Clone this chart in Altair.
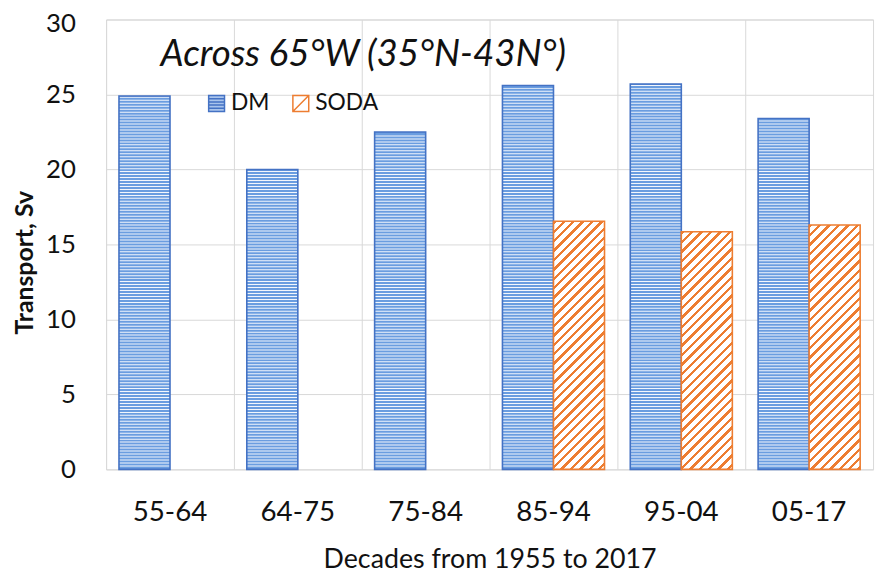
import altair as alt
import pandas as pd

# ---- data ----
decades = ["55-64", "64-75", "75-84", "85-94", "95-04", "05-17"]
dm_values = [24.9, 20.0, 22.5, 25.6, 25.7, 23.4]
soda_decades = ["85-94", "95-04", "05-17"]
soda_values = [16.55, 15.85, 16.3]
series_names = ["DM", "SODA"]
y_ticks = [0, 5, 10, 15, 20, 25, 30]

rows = [{"decade": d, "series": "DM", "value": v} for d, v in zip(decades, dm_values)]
rows += [{"decade": d, "series": "SODA", "value": v} for d, v in zip(soda_decades, soda_values)]
df = pd.DataFrame(rows)

# ---- layout / style ----
W, H = 774, 454
YMAX = 30
FONT = "Lato"
GRID = "#d9d9d9"
BLUE = "#4472c4"
DM_FILL = "#6a9de0"
ORANGE = "#ed7d31"
P_OUT = 0.2524
band = W / len(decades)
bar_w = band / (2 + 2 * P_OUT)
px = YMAX / H                 # data units per pixel
STEP = 3 * px                 # stripe period: 3 px
LW = 1 * px                   # white stripe: 1 px


def diag(w, h, period=9.5, line=3.4, col=ORANGE, bg="#ffffff"):
    L = w + h
    lam = L / (w * w + h * h)
    stops = []
    s = 0.0
    while s < L:
        a = s / L
        b = min((s + line) / L, 1.0)
        c = min((s + period) / L, 1.0)
        stops += [{"offset": a, "color": col}, {"offset": b, "color": col},
                  {"offset": b, "color": bg}, {"offset": c, "color": bg}]
        s += period
    return {"gradient": "linear", "x1": 0, "y1": 0, "x2": lam * w, "y2": lam * h, "stops": stops}


x_enc = alt.X(
    "decade:N", sort=decades,
    scale=alt.Scale(paddingInner=0, paddingOuter=0),
    axis=alt.Axis(
        title="Decades from 1955 to 2017", bandPosition=0, grid=True, gridColor=GRID,
        ticks=False, domain=False, labelAngle=0, labelFont=FONT, labelFontSize=28,
        labelColor="#111", labelBaseline="alphabetic", labelPadding=52,
        titleFont=FONT, titleFontSize=27, titleFontWeight="normal", titleColor="#111",
        titleBaseline="alphabetic", titleY=99,
    ),
)
xoff_enc = alt.XOffset("series:N", scale=alt.Scale(domain=series_names, paddingInner=0, paddingOuter=P_OUT))
y_scale = alt.Scale(domain=[0, YMAX], nice=False)
y_axis = alt.Axis(
    title="Transport, Sv", values=y_ticks, grid=True, gridColor=GRID,
    ticks=False, domain=False, labelFont=FONT, labelFontSize=26, labelColor="#111",
    labelPadding=31,
    labelOffset={"condition": {"test": f"datum.value == {YMAX}", "value": 4}, "value": 0},
    titleFont=FONT, titleFontSize=25, titleFontWeight="bold",
    titleColor="#111", titleAngle=270, titleAlign="center", titleBaseline="middle",
    titleX=-82, titleY=245,
)
y_enc = alt.Y("value:Q", scale=y_scale, axis=y_axis)

base = alt.Chart(df).encode(x=x_enc, xOffset=xoff_enc, y=y_enc)

# DM bars: blue fill, thin white horizontal stripes, blue outline on top
dm_fill = base.transform_filter("datum.series == 'DM'").mark_bar(fill=DM_FILL, strokeWidth=0)
dm_stripes = (
    alt.Chart(df)
    .transform_filter("datum.series == 'DM'")
    .transform_calculate(s=f"sequence({STEP}, datum.value - {0.6 * STEP}, {STEP})")
    .transform_flatten(["s"])
    .transform_calculate(s2=f"datum.s + {LW}")
    .mark_bar(fill="#f2f6fc", strokeWidth=0)
    .encode(x=x_enc, xOffset=xoff_enc,
            y=alt.Y("s:Q", scale=y_scale, axis=y_axis), y2="s2:Q")
)
dm_outline = base.transform_filter("datum.series == 'DM'").mark_bar(
    fill=DM_FILL, fillOpacity=0, stroke=BLUE, strokeWidth=1.6)

layers = [dm_fill, dm_stripes, dm_outline]
for d, v in zip(soda_decades, soda_values):
    h = v / YMAX * H
    layers.append(
        base.transform_filter(f"datum.decade == '{d}' && datum.series == 'SODA'")
        .mark_bar(fill=diag(bar_w, h), stroke=ORANGE, strokeWidth=1.6)
    )

dm_path = "M-1,-1H1V1H-1Z M-1,-0.6H1 M-1,-0.2H1 M-1,0.2H1 M-1,0.6H1"
soda_path = "M-1,-1H1V1H-1Z M-1,1L1,-1"
leg = alt.Legend(
    title=None, orient="none", legendX=100, legendY=73, direction="horizontal",
    labelFont=FONT, labelFontSize=23, labelColor="#111", labelOffset=3,
    columnPadding=20, symbolSize=256, symbolStrokeWidth=1.5,
)
legend_layer = (
    alt.Chart(df)
    .transform_filter("false")
    .mark_point(filled=True, size=256, strokeWidth=1.5, opacity=1)
    .encode(
        shape=alt.Shape("series:N", scale=alt.Scale(domain=series_names, range=[dm_path, soda_path]), legend=leg),
        fill=alt.Fill("series:N", scale=alt.Scale(domain=series_names, range=["#a9c4ec", "#ffffff"]), legend=leg),
        stroke=alt.Stroke("series:N", scale=alt.Scale(domain=series_names, range=[BLUE, ORANGE]), legend=leg),
    )
)
layers.append(legend_layer)

chart = (
    alt.layer(*layers)
    .properties(
        width=W, height=H,
        padding={"left": 99, "top": 9, "right": 5, "bottom": 105},
        autosize=alt.AutoSizeParams(type="none"),
        title=alt.TitleParams(
            "Across 65°W (35°N-43N°)", font=FONT, fontSize=37, fontStyle="italic",
            fontWeight="normal", color="#111", anchor="start", frame="group",
            dx=55, dy=46, offset=-47, baseline="alphabetic",
        ),
        background="white",
    )
    .configure_view(stroke=GRID, strokeWidth=1)
)

chart.save("out.html", embed_options={"renderer": "svg", "actions": False})
